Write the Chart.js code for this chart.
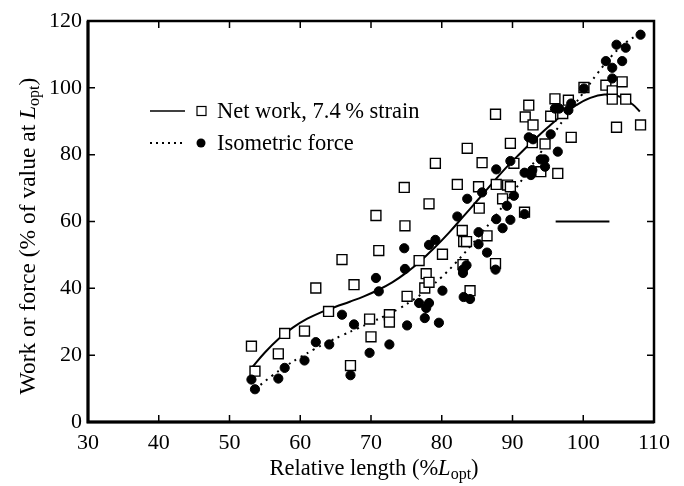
<!DOCTYPE html>
<html>
<head>
<meta charset="utf-8">
<script src="https://cdn.jsdelivr.net/npm/chart.js@4.4.1/dist/chart.umd.min.js"></script>
<style>
  body { margin: 0; background: #fff; }
  canvas { display: block; }
</style>
</head>
<body>
<canvas id="chart" width="684" height="486"></canvas>
<script>
const xTicks = [30, 40, 50, 60, 70, 80, 90, 100, 110];
const yTicks = [0, 20, 40, 60, 80, 100, 120];

// open squares: net work
const workX = [53.1, 53.6, 56.9, 57.8, 60.6, 62.2, 64.0, 65.9, 67.1, 67.6, 69.8, 70.0, 70.7, 71.1, 72.6, 72.6,
    74.7, 74.8, 75.1, 76.8, 77.8, 77.6, 78.2, 78.2, 79.1, 80.1, 82.2, 82.9, 83.1, 83.0, 83.6, 83.5, 84.0,
    85.2, 85.3, 85.7, 86.4, 87.6, 87.7, 87.6, 88.6, 89.3, 89.7, 90.2, 89.7, 91.7, 91.8, 92.3, 92.9, 92.8,
    94.0, 94.6, 95.4, 96.0, 96.4, 97.1, 97.9, 98.3, 100.1, 103.2, 104.1, 104.1, 105.5, 106.0, 104.7, 108.1];
const workY = [22.7, 15.2, 20.4, 26.5, 27.2, 40.1, 33.1, 48.6, 16.9, 41.1, 30.8, 25.5, 61.8, 51.3, 32.1, 29.9,
    70.2, 58.7, 37.6, 48.3, 44.4, 40.1, 65.3, 41.8, 77.4, 50.2, 71.1, 57.3, 54.0, 47.1, 81.9, 54.0, 39.3,
    70.4, 64.0, 77.6, 55.7, 92.1, 71.1, 47.4, 66.8, 70.9, 83.4, 77.4, 70.4, 62.8, 91.3, 94.8, 88.9, 83.6,
    74.9, 83.2, 91.5, 96.7, 74.4, 92.3, 96.3, 85.2, 100.1, 100.8, 99.1, 96.6, 101.8, 96.6, 88.2, 88.9];

// filled circles: isometric force
const forceX = [53.1, 53.6, 56.9, 57.8, 60.6, 62.2, 64.1, 65.9, 67.1, 67.6, 69.8, 70.7, 71.1, 72.6, 74.7, 74.8,
    75.1, 76.8, 77.6, 77.8, 78.2, 78.2, 79.1, 79.6, 80.1, 82.2, 83.0, 83.0, 83.1, 83.6, 83.5, 84.0, 85.2,
    85.2, 85.7, 86.4, 87.7, 87.7, 87.6, 88.6, 89.2, 89.7, 89.7, 90.2, 91.7, 91.7, 92.3, 92.6, 92.8, 92.9,
    94.0, 94.5, 94.6, 95.4, 96.0, 96.4, 96.6, 97.9, 98.3, 100.1, 103.2, 104.1, 104.1, 104.7, 105.5, 106.0, 108.1];
const forceY = [12.7, 9.8, 13.0, 16.2, 18.4, 23.9, 23.2, 32.1, 14.0, 29.2, 20.7, 43.1, 39.1, 23.2, 52.0, 45.8,
    28.9, 35.6, 31.1, 34.1, 35.6, 53.0, 54.5, 29.7, 39.3, 61.5, 45.6, 44.6, 37.4, 66.8, 46.9, 36.8, 56.8,
    53.2, 68.7, 50.7, 75.6, 60.7, 45.6, 58.0, 64.7, 78.1, 60.5, 67.7, 62.2, 74.6, 85.2, 73.9, 75.4, 84.6,
    78.6, 78.6, 76.4, 86.1, 93.8, 80.9, 93.8, 93.3, 95.3, 99.8, 108.0, 106.0, 102.8, 112.9, 108.0, 112.0, 115.9];

// fitted curves
const workFitX = [53.1, 55, 57, 59, 61, 63, 65, 67, 69, 71, 73, 75, 77, 79, 81, 83, 85, 87, 89, 91, 93, 95,
    97, 99, 101, 103, 105, 107, 108];
const workFitY = [16.1, 20.8, 25.0, 28.3, 30.9, 32.9, 34.5, 36.0, 37.6, 39.5, 41.8, 44.7, 48.2, 52.2, 56.6,
    61.4, 66.2, 71.1, 75.9, 80.2, 84.3, 88.2, 91.8, 94.8, 97.0, 98.0, 97.5, 95.0, 92.9];
const forceFitX = [53.6, 56, 58, 60, 62, 64, 66, 68, 70, 72, 74, 76, 78, 80, 82, 84, 86, 88, 90, 92, 94, 96,
    98, 100, 102, 104, 106, 108];
const forceFitY = [9.8, 13.8, 16.8, 19.4, 21.8, 24.0, 26.0, 27.9, 29.8, 31.8, 34.0, 36.6, 39.7, 43.4, 47.7,
    52.5, 57.5, 62.8, 68.5, 74.5, 80.7, 86.8, 92.8, 98.5, 104.3, 109.5, 113.5, 116.2];

// scale bar
const barX = [96.1, 103.7];
const barY = [60, 60];

const toPts = (xs, ys) => xs.map((x, i) => ({ x: x, y: ys[i] }));

const SERIF = '"Liberation Serif", "Times New Roman", serif';

const framePlugin = {
    id: 'frame',
    afterDraw(chart) {
        const ctx = chart.ctx;
        const a = chart.chartArea;
        const xs = chart.scales.x;
        const ys = chart.scales.y;
        ctx.save();
        ctx.strokeStyle = '#000';
        // inward ticks
        ctx.lineWidth = 1.5;
        ctx.beginPath();
        xTicks.slice(1, -1).forEach(v => {
            const px = xs.getPixelForValue(v);
            ctx.moveTo(px, a.bottom); ctx.lineTo(px, a.bottom - 7);
            ctx.moveTo(px, a.top); ctx.lineTo(px, a.top + 7);
        });
        yTicks.slice(1, -1).forEach(v => {
            const py = ys.getPixelForValue(v);
            ctx.moveTo(a.left, py); ctx.lineTo(a.left + 7, py);
            ctx.moveTo(a.right, py); ctx.lineTo(a.right - 7, py);
        });
        ctx.stroke();
        // box
        ctx.lineWidth = 2.5;
        ctx.strokeRect(a.left, a.top, a.right - a.left, a.bottom - a.top);
        ctx.lineWidth = 3;
        ctx.beginPath();
        ctx.moveTo(a.left, a.top); ctx.lineTo(a.left, a.bottom); ctx.lineTo(a.right, a.bottom);
        ctx.stroke();

        // legend
        const lx = a.left + 62;
        const ly1 = a.top + 90;
        const ly2 = a.top + 122;
        ctx.lineWidth = 1.5;
        ctx.beginPath();
        ctx.moveTo(lx, ly1); ctx.lineTo(lx + 35, ly1);
        ctx.stroke();
        ctx.setLineDash([2, 4]);
        ctx.lineWidth = 2;
        ctx.beginPath();
        ctx.moveTo(lx, ly2); ctx.lineTo(lx + 35, ly2);
        ctx.stroke();
        ctx.setLineDash([]);
        ctx.lineWidth = 1.2;
        ctx.fillStyle = '#fff';
        ctx.fillRect(lx + 47, ly1 - 4.5, 9, 9);
        ctx.strokeRect(lx + 47, ly1 - 4.5, 9, 9);
        ctx.fillStyle = '#000';
        ctx.beginPath();
        ctx.arc(lx + 51, ly2, 4.5, 0, Math.PI * 2);
        ctx.fill();
        ctx.font = '22.5px ' + SERIF;
        ctx.textBaseline = 'middle';
        ctx.textAlign = 'left';
        ctx.fillText('Net work, 7.4\u2009% strain', lx + 67, ly1 + 1);
        ctx.fillText('Isometric force', lx + 67, ly2 + 1);

        // axis titles with italic L and subscript opt
        const drawTitle = (cx, cy, rot, before, size) => {
            const f1 = size + 'px ' + SERIF;
            const fI = 'italic ' + size + 'px ' + SERIF;
            const fS = Math.round(size * 0.7) + 'px ' + SERIF;
            ctx.save();
            ctx.translate(cx, cy);
            ctx.rotate(rot);
            ctx.textBaseline = 'alphabetic';
            ctx.textAlign = 'left';
            const parts = [[before, f1, 0], ['L', fI, 0], ['opt', fS, 4], [')', f1, 0]];
            let w = 0;
            parts.forEach(p => { ctx.font = p[1]; w += ctx.measureText(p[0]).width; });
            let x = -w / 2;
            parts.forEach(p => {
                ctx.font = p[1];
                ctx.fillText(p[0], x, 7 + p[2]);
                x += ctx.measureText(p[0]).width;
            });
            ctx.restore();
        };
        drawTitle((a.left + a.right) / 2 + 3, 468, 0, 'Relative length (%', 22.5);
        drawTitle(28, 236, -Math.PI / 2, 'Work or force (% of value at ', 23.5);
        ctx.restore();
    }
};

new Chart(document.getElementById('chart').getContext('2d'), {
    type: 'scatter',
    data: {
        datasets: [
            {
                label: 'Isometric force',
                data: toPts(forceX, forceY),
                pointStyle: 'circle',
                pointRadius: 4.6,
                pointBackgroundColor: '#000',
                pointBorderColor: '#000',
                pointBorderWidth: 1
            },
            {
                label: 'Net work, 7.4 % strain',
                data: toPts(workX, workY),
                pointStyle: 'rect',
                pointRadius: 7,
                pointBackgroundColor: '#fff',
                pointBorderColor: '#000',
                pointBorderWidth: 1.4
            },
            {
                label: 'work fit',
                data: toPts(workFitX, workFitY),
                showLine: true,
                tension: 0.4,
                borderColor: '#000',
                borderWidth: 2,
                pointRadius: 0
            },
            {
                label: 'force fit',
                data: toPts(forceFitX, forceFitY),
                showLine: true,
                tension: 0.4,
                borderColor: '#000',
                borderWidth: 2,
                borderDash: [2, 5],
                pointRadius: 0
            },
            {
                label: 'scale bar',
                data: toPts(barX, barY),
                showLine: true,
                borderColor: '#000',
                borderWidth: 2,
                pointRadius: 0
            }
        ]
    },
    options: {
        responsive: false,
        animation: false,
        devicePixelRatio: 1,
        layout: { padding: { top: 21, right: 30, left: 0, bottom: 0 } },
        plugins: {
            legend: { display: false },
            tooltip: { enabled: false }
        },
        scales: {
            x: {
                type: 'linear',
                min: 30,
                max: 110,
                afterBuildTicks: s => { s.ticks = xTicks.map(v => ({ value: v })); },
                afterFit: s => { s.height = 64; },
                grid: { display: false, drawTicks: false },
                border: { display: false },
                ticks: { color: '#000', padding: 8, maxRotation: 0, font: { family: SERIF, size: 22 } }
            },
            y: {
                type: 'linear',
                min: 0,
                max: 120,
                afterBuildTicks: s => { s.ticks = yTicks.map(v => ({ value: v })); },
                afterFit: s => { s.width = 88; },
                grid: { display: false, drawTicks: false },
                border: { display: false },
                ticks: { color: '#000', padding: 6, font: { family: SERIF, size: 22 } }
            }
        }
    },
    plugins: [framePlugin]
});
</script>
</body>
</html>
